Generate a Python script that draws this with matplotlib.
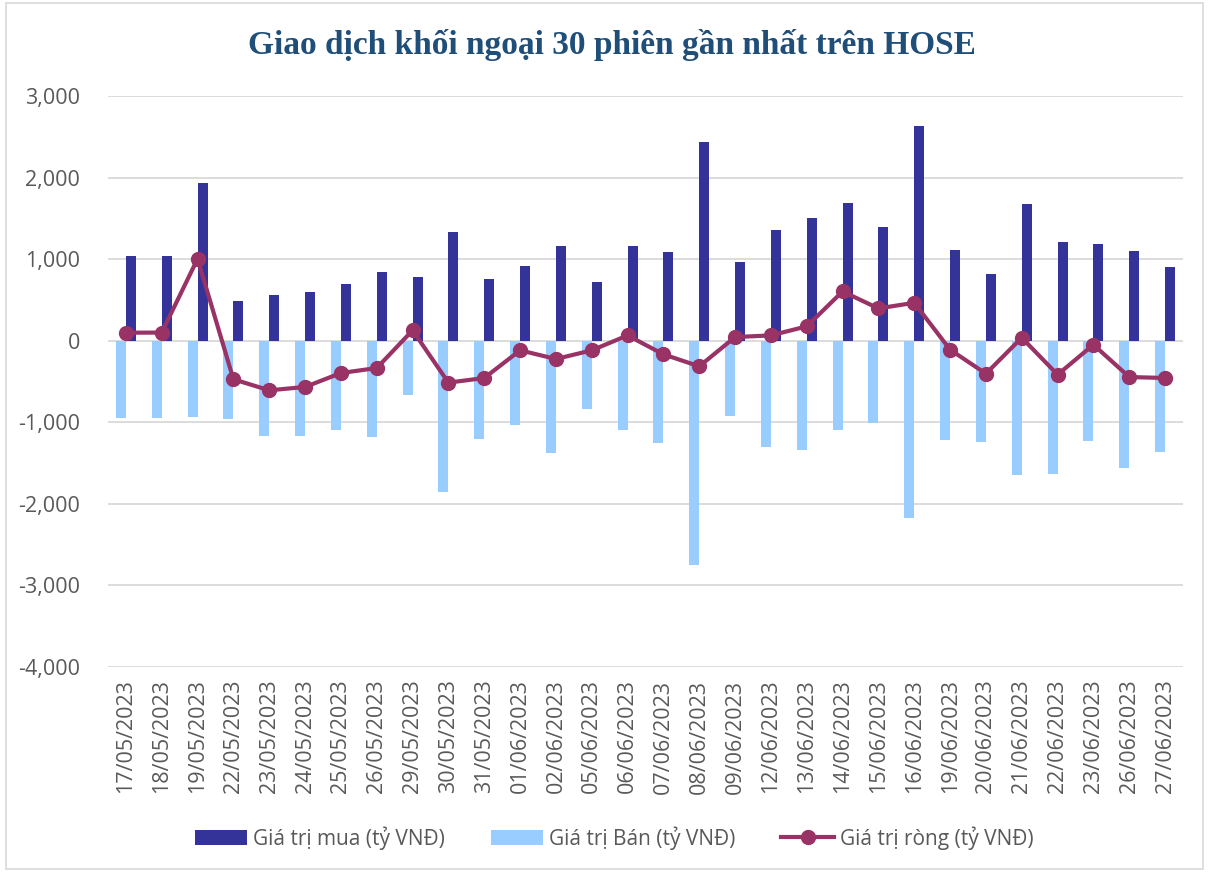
import matplotlib
matplotlib.use("Agg")
import matplotlib.pyplot as plt
import numpy as np
from matplotlib.patches import Rectangle
from matplotlib.ticker import FuncFormatter

dates = ['17/05/2023', '18/05/2023', '19/05/2023', '22/05/2023', '23/05/2023',
         '24/05/2023', '25/05/2023', '26/05/2023', '29/05/2023', '30/05/2023',
         '31/05/2023', '01/06/2023', '02/06/2023', '05/06/2023', '06/06/2023',
         '07/06/2023', '08/06/2023', '09/06/2023', '12/06/2023', '13/06/2023',
         '14/06/2023', '15/06/2023', '16/06/2023', '19/06/2023', '20/06/2023',
         '21/06/2023', '22/06/2023', '23/06/2023', '26/06/2023', '27/06/2023']

buy = [1037, 1037, 1939, 482, 555, 600, 694, 841, 776, 1335,
       751, 918, 1155, 714, 1159, 1082, 2437, 967, 1359, 1510,
       1686, 1400, 2637, 1106, 820, 1678, 1216, 1180, 1102, 902]

sell = [-943, -943, -935, -959, -1167, -1174, -1097, -1183, -668, -1857,
        -1208, -1036, -1379, -831, -1097, -1260, -2755, -929, -1309, -1342,
        -1093, -1007, -2171, -1219, -1240, -1644, -1636, -1228, -1558, -1366]

net = [98, 100, 1004, -473, -608, -567, -396, -335, 127, -514,
       -457, -118, -224, -118, 65, -167, -314, 45, 65, 176,
       604, 396, 465, -110, -404, 37, -416, -49, -445, -457]

yticks = [-4000, -3000, -2000, -1000, 0, 1000, 2000, 3000]

title = "Giao dịch khối ngoại 30 phiên gần nhất trên HOSE"
labels = ["Giá trị mua (tỷ VNĐ)", "Giá trị Bán (tỷ VNĐ)", "Giá trị ròng (tỷ VNĐ)"]

C_BUY = "#333399"
C_SELL = "#99CCFF"
C_NET = "#993366"
C_TXT = "#595959"
C_GRID = "#D9D9D9"

W, H = 1209, 872
fig = plt.figure(figsize=(W / 100, H / 100), dpi=100)
ax = fig.add_axes([108 / W, 1 - 667 / H, (1183 - 108) / W, (667 - 96) / H])

x = np.arange(len(dates))
bw = 0.28
h_sell = ax.bar(x - bw / 2, sell, bw, color=C_SELL, zorder=2)
h_buy = ax.bar(x + bw / 2, buy, bw, color=C_BUY, zorder=2)
h_net, = ax.plot(x, net, color=C_NET, lw=3.0, marker='o', ms=10, zorder=3)

ax.set_xlim(-0.5, len(dates) - 0.5)
ax.set_ylim(-4000, 3000)
ax.set_yticks(yticks)
ax.yaxis.set_major_formatter(FuncFormatter(lambda v, p: f"{int(v):,}"))
ax.set_xticks(x)
ax.set_xticklabels(dates, rotation=90, va='top', ha='center')
ax.grid(axis='y', color=C_GRID, lw=1.3, zorder=0)
ax.set_axisbelow(True)
for s in ax.spines.values():
    s.set_visible(False)
ax.tick_params(axis='both', length=0, colors=C_TXT, labelsize=15.5)
ax.tick_params(axis='y', pad=20)
ax.tick_params(axis='x', pad=9)
for t in ax.get_xticklabels() + ax.get_yticklabels():
    t.set_fontfamily('Open Sans')

fig.text(0.506, 1 - 45 / H, title, ha='center', va='center', fontsize=24,
         fontweight='bold', color='#1F4E79', family='Liberation Serif')

leg = fig.legend([h_buy, h_sell, h_net], labels, loc='center',
                 bbox_to_anchor=(0.508, 1 - 838 / H), ncol=3, frameon=False,
                 prop={'family': 'Open Sans', 'size': 15}, handlelength=2.5,
                 handleheight=0.7, handletextpad=0.3, columnspacing=2.2)
for t in leg.get_texts():
    t.set_color(C_TXT)

fig.patches.append(Rectangle((6 / W, 3 / H), 1 - 12 / W, 1 - 6 / H, transform=fig.transFigure,
                             fill=False, edgecolor=C_GRID, lw=1.2))

fig.savefig("out.png", dpi=100, facecolor='white')
